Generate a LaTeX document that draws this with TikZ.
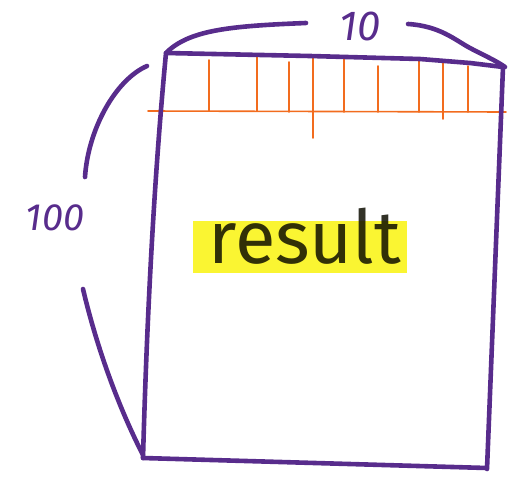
\documentclass[tikz,border=0pt]{standalone}
\usepackage{fontspec}
\setmainfont{Fira Sans}
\usetikzlibrary{positioning}
\definecolor{pen}{RGB}{88,44,140}
\definecolor{marker}{RGB}{242,108,30}
\definecolor{hilite}{RGB}{250,245,50}
\definecolor{ink}{RGB}{50,50,40}
\tikzset{
  stroke/.style={draw=pen, line width=4.6pt},
  cellline/.style={draw=marker, line width=1.6pt},
}
\begin{document}
\begin{tikzpicture}[x=1pt, y=-1pt, line cap=round, line join=round]
  \useasboundingbox (0,0) rectangle (518,479);
  % corners of the array
  \coordinate (tl) at (166,53);
  \coordinate (tr) at (503,67);
  \coordinate (br) at (487,469);
  \coordinate (bl) at (143,458);
  % label in the middle, marked
  \node[text=ink, font=\fontsize{74}{80}\selectfont] (res) at (305,236) {result};
  \fill[hilite, blend mode=multiply] (193,221) rectangle (407,273);
  % first row split into cells
  \draw[cellline] (148,111) -- (506,112);
  \foreach \x/\t/\b in {209/60/111, 257/56/111, 289/62/112, 313/57/138,
      344/58/112, 378/66/112, 419/59/112, 443/63/119, 468/66/112}
    \draw[cellline] (\x,\t) -- (\x,\b);
  % outline
  \draw[stroke] (tl) -- (310,56) -- (420,59) -- (470,63) -- (tr)
    -- (br) (bl) -- (487,468);
  \draw[stroke] (tl) .. controls (152,200) and (146,350) .. (bl);
  % width brace
  \draw[stroke] (167,52) .. controls (190,30) and (230,26) .. (306,23);
  \draw[stroke] (408,24) .. controls (440,26) and (455,40) .. (470,48)
    .. controls (485,56) and (495,60) .. (505,67);
  \node[text=pen, font=\fontsize{42}{42}\selectfont\itshape] (cols) at (360,26) {10};
  % height brace
  \draw[stroke] (147,66) .. controls (115,80) and (88,130) .. (85,177);
  \draw[stroke] (83,289) .. controls (95,340) and (115,400) .. (143,455);
  \node[text=pen, font=\fontsize{38}{38}\selectfont\itshape] (rows) at (55,218) {100};
\end{tikzpicture}
\end{document}
